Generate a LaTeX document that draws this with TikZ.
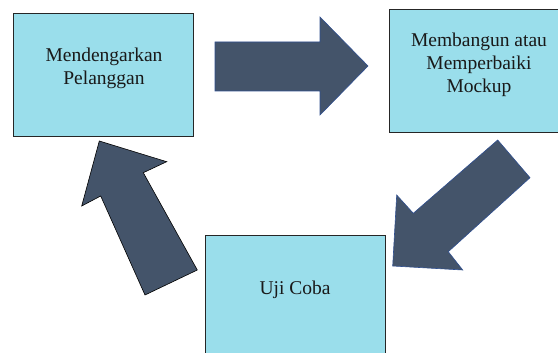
\documentclass[tikz,border=0pt]{standalone}
\usepackage{fontspec}
\setmainfont{Liberation Serif}
\definecolor{boxfill}{HTML}{9ADEEB}
\definecolor{arrowfill}{HTML}{44546A}
\definecolor{arrowedge}{HTML}{2F4F8F}
\begin{document}
\begin{tikzpicture}[x=1pt,y=-1pt,
  stagebox/.style={draw=black!85,line width=0.8pt,fill=boxfill,
    minimum width=180pt,minimum height=123pt,inner sep=0pt},
  stagetext/.style={align=center,font=\fontsize{19.5}{23}\selectfont,text=black!90},
  blockarrow/.style={fill=arrowfill,line width=0.6pt,line join=miter}]
\useasboundingbox (0,0) rectangle (558,353);
\clip (0,0) rectangle (558,353);

% the three stages of the cycle
\node[stagebox] (listen) at (103,74.5) {};
\node[stagebox] (build) at (479,71) {};
\node[stagebox] (test) at (295,296.5) {};

\node[stagetext] (listenT) at (104,68) {Mendengarkan\\Pelanggan};
\node[stagetext] (buildT) at (479,65) {Membangun atau\\Memperbaiki\\Mockup};
\node[stagetext] (testT) at (295,290) {Uji Coba};

% block arrows between the stages
\draw[blockarrow,draw=arrowedge] (215,42) -- (320,42) -- (320,17) -- (368,66)
  -- (320,115) -- (320,91) -- (215,91) -- cycle;
\draw[blockarrow,draw=arrowedge] (497.7,140) -- (530,177.7) -- (448.3,251.7)
  -- (462.7,270) -- (392.7,266) -- (396.7,195) -- (413.3,213.3) -- cycle;
\draw[blockarrow,draw=black] (99.3,141) -- (166.7,161.7) -- (143.3,172.7)
  -- (197.3,270) -- (145,295) -- (100.7,196) -- (81.7,206) -- cycle;
\end{tikzpicture}
\end{document}
